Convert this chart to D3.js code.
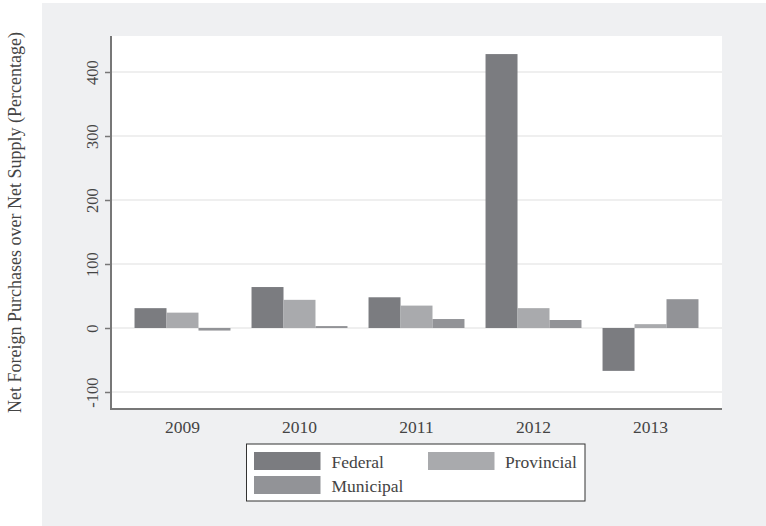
<!DOCTYPE html>
<html><head><meta charset="utf-8">
<script src="https://cdn.jsdelivr.net/npm/d3@7"></script>
<style>body{margin:0;background:#fff}svg{display:block}text{font-family:"Liberation Serif","DejaVu Serif",serif}</style>
</head><body><svg id="c" width="766" height="526"></svg>
<script>
const years = ["2009","2010","2011","2012","2013"];
const seriesNames = ["Federal","Provincial","Municipal"];
const federal = [31, 64, 48, 428, -67];
const provincial = [24, 44, 35, 31, 6];
const municipal = [-4, 3, 14, 12.5, 45];
const yTicks = [-100, 0, 100, 200, 300, 400];
const colors = ["#7b7c80", "#a9aaad", "#929397"];

const values = [federal, provincial, municipal];
const svg = d3.select("#c");
svg.append("rect").attr("x",42).attr("y",3).attr("width",724).attr("height",523).attr("fill","#eff0f2");
const L = 111, R = 722, T = 36, B = 409;
svg.append("rect").attr("x",L).attr("y",T).attr("width",R-L).attr("height",B-T).attr("fill","#fff");

const y = d3.scaleLinear().domain([0,100]).range([328,264]);
const x = d3.scaleBand().domain(years).range([L,R]).paddingInner(0.18).paddingOuter(0.201);
const xs = d3.scaleBand().domain(seriesNames).range([0,x.bandwidth()]);

// grid
svg.append("g").selectAll("line").data(yTicks).join("line")
  .attr("x1",L).attr("x2",R).attr("y1",d=>y(d)).attr("y2",d=>y(d))
  .attr("stroke","#eaeaea").attr("stroke-width",1.5);

// bars
seriesNames.forEach((s,i)=>{
  svg.append("g").selectAll("rect").data(years).join("rect")
    .attr("x",d=>x(d)+xs(s))
    .attr("width",xs.bandwidth())
    .attr("y",(d,j)=>Math.min(y(values[i][j]),y(0)))
    .attr("height",(d,j)=>Math.abs(y(values[i][j])-y(0)))
    .attr("fill",colors[i]);
});

// y axis
const ya = svg.append("g").attr("transform",`translate(${L},0)`)
  .call(d3.axisLeft(y).tickValues(yTicks).tickSize(6).tickPadding(0).tickFormat(d=>String(d)));
ya.select(".domain").remove();
ya.selectAll(".tick line").attr("stroke","#777").attr("stroke-width",1.5);
ya.selectAll(".tick text").attr("font-size",16.5).attr("fill","#444")
  .attr("transform","translate(-19,0) rotate(-90)").attr("text-anchor","middle").attr("dy","0").attr("x",0).attr("y",0)
  .attr("dominant-baseline","central");
svg.append("line").attr("x1",L).attr("x2",L).attr("y1",T).attr("y2",B+1).attr("stroke","#777").attr("stroke-width",2);

// x axis
const xa = svg.append("g").attr("transform",`translate(0,${B})`)
  .call(d3.axisBottom(x).tickSize(0).tickPadding(0));
xa.select(".domain").remove();
xa.selectAll(".tick text").attr("font-size",17.5).attr("fill","#444").attr("dy",0).attr("y",24);
svg.append("line").attr("x1",L).attr("x2",R).attr("y1",B).attr("y2",B).attr("stroke","#777").attr("stroke-width",2);

// y label
svg.append("text").attr("transform",`translate(21,${(T+B)/2}) rotate(-90)`)
  .attr("text-anchor","middle").attr("font-size",18).attr("fill","#444")
  .text("Net Foreign Purchases over Net Supply (Percentage)");

// legend
const lg = svg.append("g");
lg.append("rect").attr("x",246.5).attr("y",444).attr("width",338.5).attr("height",57)
  .attr("fill","#fff").attr("stroke","#333").attr("stroke-width",1);
const pos = [[254,452,331.5],[428,452,505],[254,476,331.5]];
seriesNames.forEach((s,i)=>{
  const [sx,sy,tx] = pos[i];
  lg.append("rect").attr("x",sx).attr("y",sy).attr("width",66.5).attr("height",18).attr("fill",colors[i]);
  lg.append("text").attr("x",tx).attr("y",sy+15.5).attr("font-size",17.5).attr("fill","#444").text(s);
});
</script></body></html>
